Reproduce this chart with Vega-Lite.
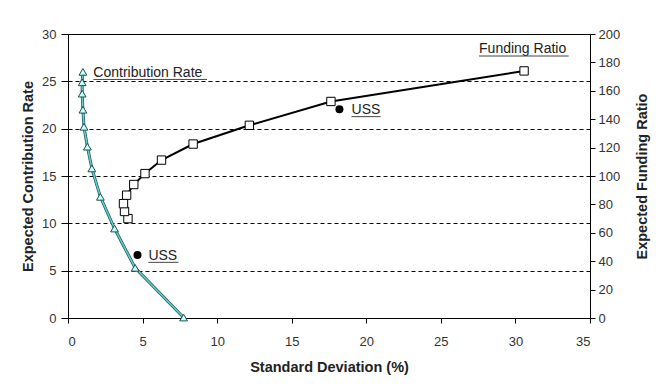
{
  "$schema": "https://vega.github.io/schema/vega-lite/v6.json",
  "width": 522,
  "height": 284,
  "autosize": {"type": "none"},
  "padding": {"left": 68, "top": 34, "right": 77, "bottom": 68},
  "background": "white",
  "datasets": {
    "contrib": [
      {"k": "line", "o": 1, "x": 1.0, "y": 26.0},
      {"k": "line", "o": 2, "x": 0.95, "y": 24.9},
      {"k": "line", "o": 3, "x": 0.95, "y": 23.7},
      {"k": "line", "o": 4, "x": 1.0, "y": 22.0},
      {"k": "line", "o": 5, "x": 1.07, "y": 20.2},
      {"k": "line", "o": 6, "x": 1.3, "y": 18.1},
      {"k": "line", "o": 7, "x": 1.6, "y": 15.8},
      {"k": "line", "o": 8, "x": 2.17, "y": 12.8},
      {"k": "line", "o": 9, "x": 3.12, "y": 9.45},
      {"k": "line", "o": 10, "x": 4.5, "y": 5.3},
      {"k": "line", "o": 11, "x": 7.75, "y": 0.05},
      {"k": "uss", "x": 4.66, "y": 6.66},
      {"k": "lbl", "x": 1.7, "y": 25.49, "t": "Contribution Rate"},
      {"k": "lbl", "x": 5.39, "y": 6.13, "t": "USS"},
      {"k": "ul", "x": 1.7, "x2": 9.32, "y": 25.2},
      {"k": "ul", "x": 5.39, "x2": 7.41, "y": 5.88}
    ],
    "funding": [
      {"k": "line", "o": 1, "x": 4.02, "y": 70},
      {"k": "line", "o": 2, "x": 3.79, "y": 75},
      {"k": "line", "o": 3, "x": 3.72, "y": 80.5},
      {"k": "line", "o": 4, "x": 3.93, "y": 86.5},
      {"k": "line", "o": 5, "x": 4.41, "y": 94},
      {"k": "line", "o": 6, "x": 5.16, "y": 101.7},
      {"k": "line", "o": 7, "x": 6.27, "y": 111.2},
      {"k": "line", "o": 8, "x": 8.39, "y": 122.5},
      {"k": "line", "o": 9, "x": 12.16, "y": 135.7},
      {"k": "line", "o": 10, "x": 17.63, "y": 152.5},
      {"k": "line", "o": 11, "x": 30.58, "y": 174},
      {"k": "uss", "x": 18.2, "y": 147},
      {"k": "lbl", "x": 19.01, "y": 143.5, "t": "USS"},
      {"k": "lbl", "x": 27.56, "y": 186.4, "t": "Funding Ratio"},
      {"k": "ul", "x": 19.01, "x2": 20.96, "y": 141.8},
      {"k": "ul", "x": 27.56, "x2": 33.57, "y": 184.5}
    ]
  },
  "config": {
    "view": {"stroke": "black", "strokeWidth": 1},
    "axis": {
      "domainColor": "black",
      "tickColor": "black",
      "labelFont": "Liberation Sans",
      "labelFontSize": 13,
      "labelColor": "#333333",
      "titleFont": "Liberation Sans",
      "titleFontSize": 14.5,
      "titleFontWeight": "bold",
      "titleColor": "#222222",
      "grid": false
    }
  },
  "layer": [
    {
      "data": {"name": "contrib"},
      "encoding": {
        "x": {
          "field": "x", "type": "quantitative",
          "scale": {"domain": [0, 35], "nice": false, "zero": false},
          "axis": {
            "title": "Standard Deviation (%)",
            "values": [0, 5, 10, 15, 20, 25, 30, 35],
            "tickSize": 5,
            "labelPadding": 12,
            "titleY": 49,
            "titleBaseline": "middle"
          }
        },
        "y": {
          "field": "y", "type": "quantitative",
          "scale": {"domain": [0, 30], "nice": false, "zero": false},
          "axis": {
            "title": "Expected Contribution Rate",
            "values": [0, 5, 10, 15, 20, 25, 30],
            "grid": true,
            "gridColor": "black",
            "gridDash": [4, 3],
            "gridWidth": 1,
            "tickSize": 7,
            "labelPadding": 5,
            "titleAngle": 270,
            "titleX": -40,
            "titleY": 142,
            "titleAlign": "center",
            "titleBaseline": "middle"
          }
        }
      },
      "layer": [
        {
          "transform": [{"filter": "datum.k === 'line'"}],
          "mark": {"type": "line", "color": "#1f6060", "strokeWidth": 3},
          "encoding": {"order": {"field": "o", "type": "quantitative"}}
        },
        {
          "transform": [{"filter": "datum.k === 'line'"}],
          "mark": {"type": "line", "color": "#66cccc", "strokeWidth": 1.5},
          "encoding": {"order": {"field": "o", "type": "quantitative"}}
        },
        {
          "transform": [{"filter": "datum.k === 'line'"}],
          "mark": {"type": "point", "shape": "triangle-up", "filled": true, "fill": "#ccffff", "stroke": "#1f4f4f", "strokeWidth": 1, "size": 60, "opacity": 1}
        },
        {
          "transform": [{"filter": "datum.k === 'uss'"}],
          "mark": {"type": "circle", "color": "black", "size": 64, "opacity": 1}
        },
        {
          "transform": [{"filter": "datum.k === 'lbl'"}],
          "mark": {"type": "text", "align": "left", "baseline": "alphabetic", "font": "Liberation Sans", "fontSize": 14, "color": "#222222"},
          "encoding": {"text": {"field": "t"}}
        },
        {
          "transform": [{"filter": "datum.k === 'ul'"}],
          "mark": {"type": "rule", "color": "#444444", "strokeWidth": 1},
          "encoding": {"x2": {"field": "x2"}}
        }
      ]
    },
    {
      "data": {"name": "funding"},
      "encoding": {
        "x": {
          "field": "x", "type": "quantitative",
          "scale": {"domain": [0, 35], "nice": false, "zero": false},
          "axis": {
            "title": "Standard Deviation (%)",
            "values": [0, 5, 10, 15, 20, 25, 30, 35],
            "tickSize": 5,
            "labelPadding": 12,
            "titleY": 49,
            "titleBaseline": "middle"
          }
        },
        "y": {
          "field": "y", "type": "quantitative",
          "scale": {"domain": [0, 200], "nice": false, "zero": false},
          "axis": {
            "orient": "right",
            "title": "Expected Funding Ratio",
            "values": [0, 20, 40, 60, 80, 100, 120, 140, 160, 180, 200],
            "grid": false,
            "tickSize": 5,
            "labelPadding": 3,
            "titleAngle": 270,
            "titleX": 52,
            "titleY": 142,
            "titleAlign": "center",
            "titleBaseline": "middle"
          }
        }
      },
      "layer": [
        {
          "transform": [{"filter": "datum.k === 'line'"}],
          "mark": {"type": "line", "color": "black", "strokeWidth": 2},
          "encoding": {"order": {"field": "o", "type": "quantitative"}}
        },
        {
          "transform": [{"filter": "datum.k === 'line'"}],
          "mark": {"type": "square", "fill": "white", "stroke": "black", "strokeWidth": 1, "size": 70, "opacity": 1}
        },
        {
          "transform": [{"filter": "datum.k === 'uss'"}],
          "mark": {"type": "circle", "color": "black", "size": 64, "opacity": 1}
        },
        {
          "transform": [{"filter": "datum.k === 'lbl'"}],
          "mark": {"type": "text", "align": "left", "baseline": "alphabetic", "font": "Liberation Sans", "fontSize": 14, "color": "#222222"},
          "encoding": {"text": {"field": "t"}}
        },
        {
          "transform": [{"filter": "datum.k === 'ul'"}],
          "mark": {"type": "rule", "color": "#444444", "strokeWidth": 1},
          "encoding": {"x2": {"field": "x2"}}
        }
      ]
    }
  ],
  "resolve": {"scale": {"y": "independent"}}
}
